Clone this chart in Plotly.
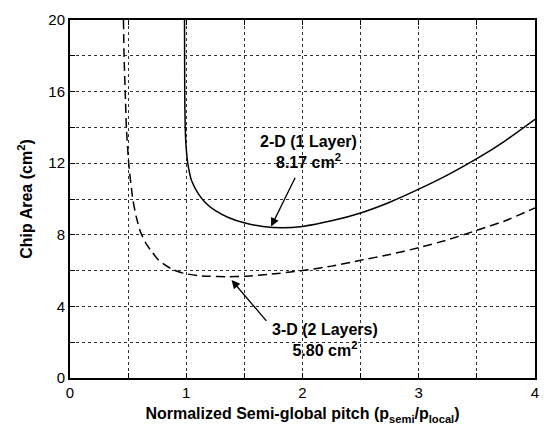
import plotly.graph_objects as go

# 2-D (1 layer) curve
x_2d = [0.985, 0.987, 0.991, 0.998, 1.013, 1.047, 1.106, 1.174, 1.251, 1.362, 1.498,
        1.66, 1.83, 2.0, 2.25, 2.5, 2.75, 3.0, 3.25, 3.5, 3.75, 4.0]
y_2d = [20, 16, 14.0, 13.0, 12.0, 11.0, 10.27, 9.73, 9.35, 8.97, 8.67,
        8.46, 8.39, 8.47, 8.78, 9.22, 9.82, 10.55, 11.35, 12.25, 13.28, 14.45]

# 3-D (2 layers) curve
x_3d = [0.46, 0.465, 0.475, 0.485, 0.505, 0.54, 0.57, 0.61, 0.66, 0.71, 0.76, 0.82, 0.88,
        0.94, 1.0, 1.1, 1.2, 1.35, 1.5, 1.7, 2.0, 2.25, 2.5, 2.75, 3.0, 3.25, 3.5, 3.75, 4.0]
y_3d = [20, 18, 16, 14, 12, 10, 9.0, 8.1, 7.45, 7.0, 6.6, 6.3, 6.07,
        5.92, 5.82, 5.72, 5.68, 5.66, 5.68, 5.78, 6.0, 6.25, 6.58, 6.9, 7.28, 7.72, 8.25, 8.8, 9.5]

x_tickvals = [0, 1, 2, 3, 4]
x_ticktext = ["0", "1", "2", "3", "4"]
y_tickvals = [0, 4, 8, 12, 16, 20]
y_ticktext = ["0", "4", "8", "12", "16", "20"]

label_2d = "<b>2-D (1 Layer)<br>8.17 cm<sup>2</sup></b>"
label_3d = "<b>3-D (2 Layers)<br>5.80 cm<sup>2</sup></b>"

FONT = "Liberation Sans, Arial, Helvetica, sans-serif"

fig = go.Figure()
fig.add_trace(go.Scatter(x=x_2d, y=y_2d, mode="lines",
                         line=dict(color="black", width=1.5, shape="spline", smoothing=0.5),
                         showlegend=False))
fig.add_trace(go.Scatter(x=x_3d, y=y_3d, mode="lines",
                         line=dict(color="black", width=1.5, dash="9px,5px", shape="spline", smoothing=0.6),
                         showlegend=False))

GRID = "#333333"
axis_common = dict(
    showline=True, linecolor="black", linewidth=2, mirror="ticks",
    ticks="inside", ticklen=5, tickcolor="black", tickwidth=1,
    showgrid=True, gridcolor=GRID, griddash="dot", gridwidth=1,
    zeroline=False,
    tickfont=dict(family=FONT, size=15, color="black"),
)

fig.update_xaxes(range=[0, 4], tickmode="array", tickvals=x_tickvals, ticktext=x_ticktext,
                 minor=dict(dtick=0.5, showgrid=True, gridcolor=GRID, griddash="dot", gridwidth=1,
                            ticks="inside", ticklen=5, tickcolor="black"),
                 title=dict(text="<b>Normalized Semi-global pitch (p<sub>semi</sub>/p<sub>local</sub>)</b>",
                            font=dict(family=FONT, size=16, color="black"), standoff=8),
                 **axis_common)
fig.update_yaxes(range=[0, 20], tickmode="array", tickvals=y_tickvals, ticktext=y_ticktext,
                 minor=dict(dtick=2, showgrid=True, gridcolor=GRID, griddash="dot", gridwidth=1,
                            ticks="inside", ticklen=5, tickcolor="black"),
                 title=dict(text="<b>Chip Area (cm<sup>2</sup>)</b>",
                            font=dict(family=FONT, size=16, color="black"), standoff=12),
                 **axis_common)

# text labels
fig.add_annotation(x=2.05, y=12.63, text=label_2d, showarrow=False,
                   font=dict(family=FONT, size=16, color="black"), xanchor="center", yanchor="middle")
fig.add_annotation(x=2.19, y=2.12, text=label_3d, showarrow=False,
                   font=dict(family=FONT, size=16, color="black"), xanchor="center", yanchor="middle")
# arrows
fig.add_annotation(x=1.73, y=8.46, ax=1.943, ay=11.27, axref="x", ayref="y", text="",
                   showarrow=True, arrowhead=2, arrowsize=1.3, arrowwidth=1.3, arrowcolor="black", standoff=0)
fig.add_annotation(x=1.39, y=5.47, ax=1.70, ay=3.11, axref="x", ayref="y", text="",
                   showarrow=True, arrowhead=2, arrowsize=1.3, arrowwidth=1.3, arrowcolor="black", standoff=0)

fig.update_layout(
    width=550, height=431,
    margin=dict(l=70, r=12, t=11, b=52),
    paper_bgcolor="white", plot_bgcolor="white",
    font=dict(family=FONT, color="black"),
)

fig.write_html("out.html")
